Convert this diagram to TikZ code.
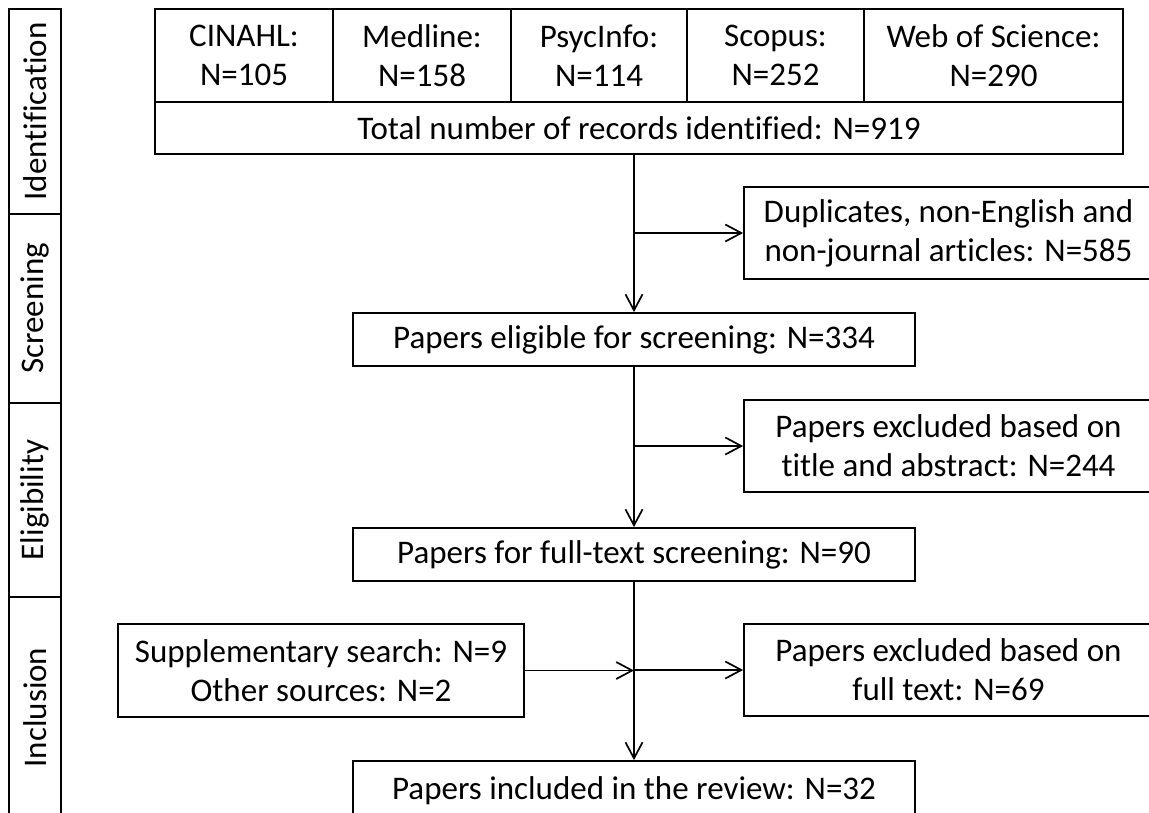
\documentclass[tikz,border=0pt]{standalone}
\usepackage{fontspec}
\setmainfont{Carlito}[Ligatures=NoCommon]
\usetikzlibrary{arrows.meta}
\begin{document}
\begin{tikzpicture}[x=1pt,y=-1pt,
  every node/.style={font=\fontsize{33}{39}\selectfont},
  box/.style={draw, line width=1.7pt, inner sep=0pt, align=center},
  phase/.style={draw, line width=1.7pt, inner sep=0pt, rotate=90, minimum height=52pt},
  arr/.style={line width=1.7pt, -{Straight Barb[length=16pt,width=17pt,line width=1.7pt]}}]
\useasboundingbox (0,0) rectangle (1149,812);
% phases
\node[phase, minimum width=205pt] (p1) at (35,111.5) {Identification};
\node[phase, minimum width=189pt] (p2) at (35,308.5) {Screening};
\node[phase, minimum width=194pt] (p3) at (35,500) {Eligibility};
\node[phase, minimum width=221pt] (p4) at (35,707.5) {Inclusion};
% top table
\node[box, minimum width=178pt, minimum height=93pt] (c1) at (244,55.5) {CINAHL:\\N=105};
\node[box, minimum width=178pt, minimum height=93pt] (c2) at (422,55.5) {Medline:\\N=158};
\node[box, minimum width=176pt, minimum height=93pt] (c3) at (599,55.5) {PsycInfo:\\N=114};
\node[box, minimum width=177pt, minimum height=93pt] (c4) at (775.5,55.5) {Scopus:\\N=252};
\node[box, minimum width=259pt, minimum height=93pt] (c5) at (993.5,55.5) {Web of Science:\\N=290};
\node[box, minimum width=968pt, minimum height=52pt] (tot) at (639,128) {Total number of records identified: N=919};
% main boxes
\node[box, minimum width=562pt, minimum height=53pt] (elig) at (634,339.5) {Papers eligible for screening: N=334};
\node[box, minimum width=562pt, minimum height=53pt] (full) at (634,554.5) {Papers for full-text screening: N=90};
\node[box, minimum width=562pt, minimum height=60pt] (incl) at (634,791) {Papers included in the review: N=32};
% side boxes
\node[box, minimum width=409pt, minimum height=92pt] (dup) at (948.5,233) {Duplicates, non-English and\\non-journal articles: N=585};
\node[box, minimum width=409pt, minimum height=92pt] (exta) at (948.5,446) {Papers excluded based on\\title and abstract: N=244};
\node[box, minimum width=409pt, minimum height=92pt] (exft) at (948.5,670) {Papers excluded based on\\full text: N=69};
\node[box, minimum width=406pt, minimum height=93pt] (supp) at (321,670.5) {Supplementary search: N=9\\Other sources: N=2};
% connectors
\draw[arr] (tot.south -| elig.north) -- (elig.north);
\draw[arr] (dup.west -| elig.north) -- (dup.west);
\draw[arr] (elig.south) -- (full.north);
\draw[arr] (exta.west -| elig.north) -- (exta.west);
\draw[arr] (full.south) -- (incl.north);
\draw[arr] (exft.west -| full.south) -- (exft.west);
\draw[arr] (supp.east) -- (supp.east -| full.south);
\end{tikzpicture}
\end{document}
